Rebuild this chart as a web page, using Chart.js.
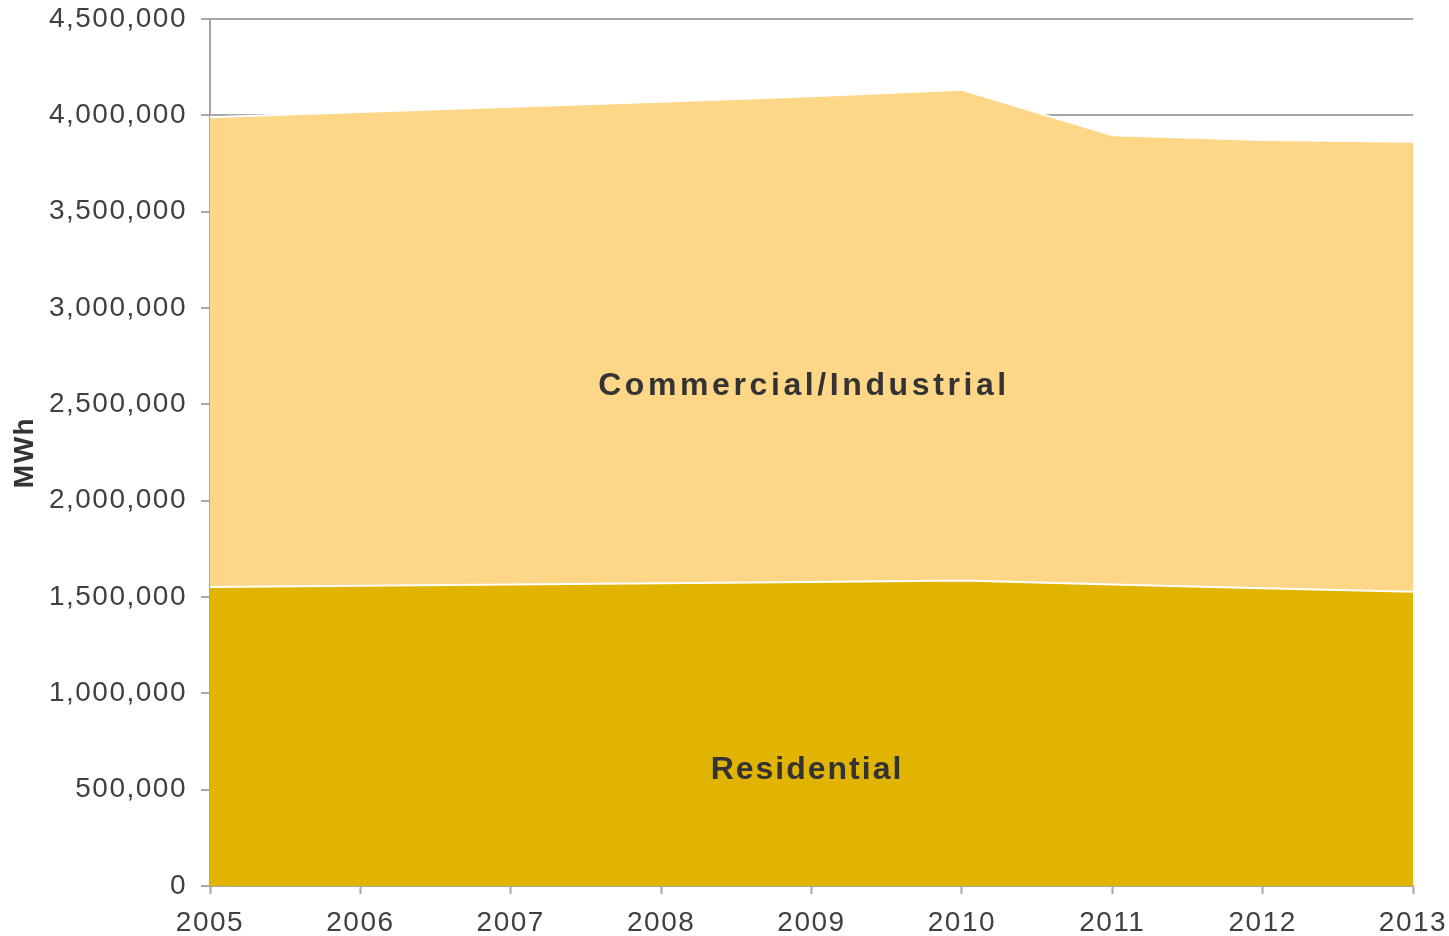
<!DOCTYPE html>
<html>
<head>
<meta charset="utf-8">
<script src="https://cdn.jsdelivr.net/npm/chart.js@4/dist/chart.umd.min.js"></script>
<style>
  html, body { margin: 0; padding: 0; background: #ffffff; }
  #wrap { position: relative; width: 1449px; height: 936px; }
</style>
</head>
<body>
<div id="wrap"><canvas id="c" width="1449" height="936"></canvas></div>
<script>
// ---- data ----
const years = ['2005', '2006', '2007', '2008', '2009', '2010', '2011', '2012', '2013'];
const residential = [1552000, 1559000, 1565000, 1572000, 1578000, 1585000, 1565000, 1545000, 1527000];
const commercialIndustrial = [2438000, 2458000, 2479000, 2499000, 2521000, 2548000, 2331000, 2327000, 2336000];
const seriesNames = ['Residential', 'Commercial/Industrial'];
const yTicks = [0, 500000, 1000000, 1500000, 2000000, 2500000, 3000000, 3500000, 4000000, 4500000];
const axisTitle = 'MWh';
// in-chart series labels: text, category position, value position
const areaLabelText = ['Commercial/Industrial', 'Residential'];
const areaLabelX = [3.95, 3.97];
const areaLabelY = [2595000, 603000];

// ---- styles ----
const TICK_SPACING = '1.5px';
const LABEL_SPACING = ['3.6px', '2px'];

const spacingPlugin = {
  id: 'spacing',
  beforeLayout(chart) { chart.ctx.letterSpacing = TICK_SPACING; },
  beforeDraw(chart) { chart.ctx.letterSpacing = TICK_SPACING; }
};

const areaLabels = {
  id: 'areaLabels',
  afterDatasetsDraw(chart) {
    const ctx = chart.ctx;
    const xs = chart.scales.x, ys = chart.scales.y;
    ctx.save();
    ctx.font = 'bold 32px "Liberation Sans", Arial, sans-serif';
    ctx.fillStyle = '#333333';
    ctx.textAlign = 'center';
    ctx.textBaseline = 'middle';
    areaLabelText.forEach((t, i) => {
      ctx.letterSpacing = LABEL_SPACING[i];
      ctx.fillText(t, xs.getPixelForValue(areaLabelX[i]), ys.getPixelForValue(areaLabelY[i]));
    });
    ctx.restore();
  }
};

new Chart(document.getElementById('c'), {
  type: 'line',
  data: {
    labels: years,
    datasets: [
      {
        label: seriesNames[0],
        data: residential,
        fill: 'origin',
        backgroundColor: '#E0B400',
        borderColor: '#ffffff',
        borderWidth: 2,
        pointRadius: 0,
        tension: 0
      },
      {
        label: seriesNames[1],
        data: commercialIndustrial,
        fill: '-1',
        backgroundColor: '#FDD688',
        borderColor: '#ffffff',
        borderWidth: 2,
        pointRadius: 0,
        tension: 0
      }
    ]
  },
  options: {
    responsive: false,
    animation: false,
    devicePixelRatio: 1,
    layout: { padding: { left: 0, right: 36, top: 19, bottom: 0 } },
    plugins: {
      legend: { display: false },
      tooltip: { enabled: false },
      title: { display: false }
    },
    scales: {
      x: {
        type: 'category',
        offset: false,
        grid: {
          display: true,
          drawOnChartArea: false,
          drawTicks: true,
          tickLength: 8,
          tickColor: '#a6a6a6',
          tickWidth: 2
        },
        border: { display: true, color: '#a6a6a6', width: 2 },
        ticks: {
          color: '#404040',
          font: { family: '"Liberation Sans", Arial, sans-serif', size: 28 },
          padding: 12,
          maxRotation: 0,
          autoSkip: false
        },
        afterFit(scale) { scale.height = 50; scale.paddingLeft = 0; scale.paddingRight = 0; }
      },
      y: {
        stacked: true,
        min: 0,
        max: 4500000,
        afterBuildTicks(scale) { scale.ticks = yTicks.map(v => ({ value: v })); },
        grid: {
          display: true,
          color: '#a6a6a6',
          lineWidth: 2,
          drawTicks: true,
          tickLength: 9,
          tickColor: '#a6a6a6',
          tickWidth: 2
        },
        border: { display: true, color: '#a6a6a6', width: 2 },
        ticks: {
          color: '#404040',
          font: { family: '"Liberation Sans", Arial, sans-serif', size: 28 },
          padding: 14,
          callback: (v) => Number(v).toLocaleString('en-US')
        },
        title: {
          display: true,
          text: axisTitle,
          color: '#333333',
          font: { family: '"Liberation Sans", Arial, sans-serif', size: 28, weight: 'bold' },
          padding: { top: 8, bottom: 0 }
        },
        afterFit(scale) { scale.width = 210; scale.paddingTop = 0; scale.paddingBottom = 0; }
      }
    }
  },
  plugins: [spacingPlugin, areaLabels]
});
</script>
</body>
</html>
